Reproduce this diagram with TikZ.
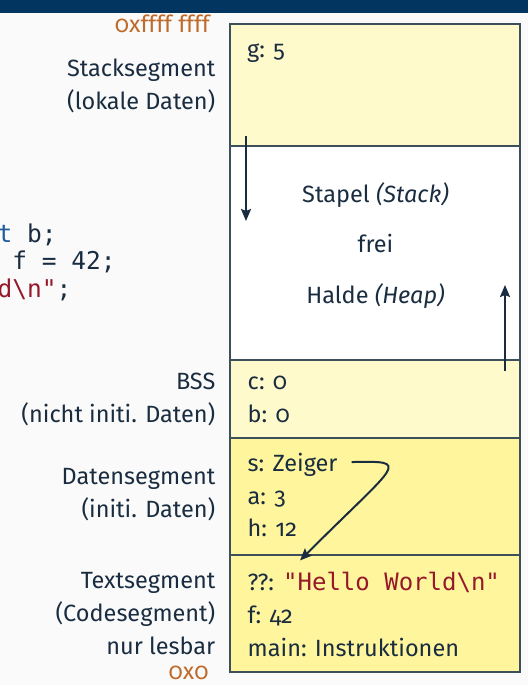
\documentclass[tikz,border=0pt]{standalone}
\usepackage{fontspec}
\setmainfont{Fira Sans}[Numbers=OldStyle]
\setmonofont{DejaVu Sans Mono}
\usepackage{tikz}
\usetikzlibrary{positioning,arrows.meta}
\definecolor{c_band}{HTML}{023660}
\definecolor{c_bg}{HTML}{FAFAFA}
\definecolor{c_txt}{HTML}{1A2D40}
\definecolor{c_addr}{HTML}{C06A2A}
\definecolor{c_light}{HTML}{FFFACC}
\definecolor{c_data}{HTML}{FFF59D}
\definecolor{c_line}{HTML}{3E4F5C}
\definecolor{c_str}{HTML}{96192B}
\definecolor{c_key}{HTML}{1F5C99}
\tikzset{seg/.style={rectangle, draw=c_line, line width=2pt, minimum width=290pt, inner sep=0pt, outer sep=0pt},
cell/.style={anchor=base west, inner sep=0pt, align=left, text=c_txt, font=\fontsize{23.5}{32.5}\selectfont},
lbl/.style={anchor=base east, inner sep=0pt, align=right, text=c_txt, font=\fontsize{23.5}{33}\selectfont},
addr/.style={anchor=base east, inner sep=0pt, text=c_addr, font=\fontsize{23.5}{28}\selectfont},
arrow/.style={line width=2pt, draw=c_txt, -{Stealth[length=12pt,width=10pt,inset=2pt]}}}

\begin{document}
\begin{tikzpicture}[x=1pt, y=-1pt]
\fill[c_bg] (0,0) rectangle (528,685);
\useasboundingbox (0,0) rectangle (528,685);
\fill[c_band] (0,0) rectangle (528,12.7);
% Speichersegmente
\node (stackseg) [seg, fill=c_light, minimum height=121.5pt, anchor=north west] at (230,24.5) {};
\node (freeseg) [seg, fill=white, minimum height=213.5pt, below=0pt of stackseg] {};
\node (bssseg) [seg, fill=c_light, minimum height=78pt, below=0pt of freeseg] {};
\node (dataseg) [seg, fill=c_data, minimum height=117pt, below=0pt of bssseg] {};
\node (codeseg) [seg, fill=c_data, minimum height=117.5pt, below=0pt of dataseg] {};
% Inhalte (base = letzte Zeile)
\node (g) [cell] at (247,57) {g: 5};
\node (cb) [cell] at (247.5,422) {c: 0\\b: 0};
\node (zeiger) [cell] at (247.5,471.7) {s: Zeiger};
\node (ah) [cell] at (247.5,536.7) {a: 3\\h: 12};
\node (strq) [cell] at (247.5,590) {??:};
\node (hello) [cell, text=c_str, font=\fontsize{24}{32.5}\selectfont\ttfamily] at (283,590) {"Hello World\textbackslash n"};
\node (fmain) [cell] at (247.5,656) {f: 42\\main: Instruktionen};
\node (frei) [anchor=base, inner sep=0pt, align=center, text=c_txt, font=\fontsize{23.5}{50.5}\selectfont] at (375.5,303) {
Stapel \textit{(Stack)}\\
frei\\
Halde \textit{(Heap)}
};
% Beschriftungen
\node (top) [addr] at (210,33) {0xffff ffff};
\node (bottom) [addr] at (208.8,679) {0x0};
\node (l1) [lbl] at (215.5,109.8) {Stacksegment\\(lokale Daten)};
\node (l2) [lbl] at (215.5,422) {BSS\\(nicht initi. Daten)};
\node (l3) [lbl] at (215.5,517.5) {Datensegment\\(initi. Daten)};
\node (l4) [lbl] at (215.5,654) {Textsegment\\(Codesegment)\\nur lesbar};
% Quelltext (links abgeschnitten)
\node (src) [cell, font=\fontsize{24.5}{27.5}\selectfont\ttfamily] at (-2.5,297) {
\textcolor{c_key}{t} b;\\
\hphantom{x}f = 42;\\
\textcolor{c_str}{d\textbackslash n"};
};
% Pfeile
\draw [arrow] ([shift={(16,-10)}]stackseg.south west) -- ([shift={(16,75)}]freeseg.north west);
\draw [arrow] ([shift={(-15,11)}]bssseg.north east) -- ([shift={(-15,-74.5)}]bssseg.north east);
\draw [arrow] ([shift={(14,-3)}]zeiger.east) .. controls +(60,-1) and +(100,-100) .. ([shift={(17,-11)}]hello.north west);
\end{tikzpicture}
\end{document}
